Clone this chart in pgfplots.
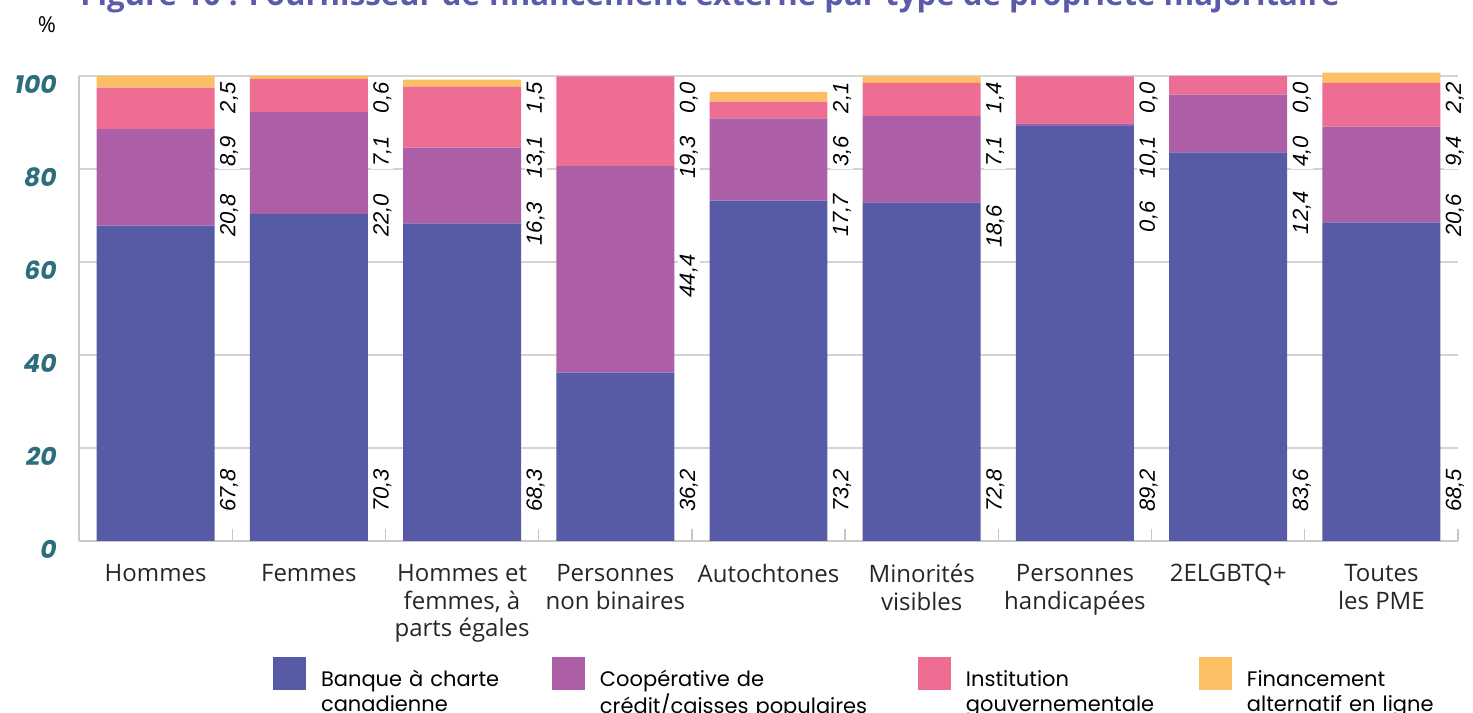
\documentclass[border=0pt]{standalone}
\usepackage{fontspec}
\usepackage{graphicx}
\usepackage{pgfplots}
\usepackage{pgfplotstable}
\pgfplotsset{compat=1.18}
\setmainfont{Open Sans}
\newfontfamily\poppins{Poppins}
\newfontfamily\arial{Liberation Sans}
\definecolor{cbank}{RGB}{87,91,165}
\definecolor{ccoop}{RGB}{172,95,167}
\definecolor{cgov}{RGB}{238,109,146}
\definecolor{calt}{RGB}{253,191,99}
\definecolor{cteal}{RGB}{45,110,125}
\definecolor{ctitle}{RGB}{90,92,170}
\definecolor{cgrid}{RGB}{212,212,212}
\definecolor{caxis}{RGB}{200,200,200}

\pgfplotstableread{
x b c g f
0 67.8 20.8 8.9 2.5
1 70.3 22.0 7.1 0.6
2 68.3 16.3 13.1 1.5
3 36.2 44.4 19.3 0.0
4 73.2 17.7 3.6 2.1
5 72.8 18.6 7.1 1.4
6 89.2 0.6 10.1 0.0
7 83.6 12.4 4.0 0.0
8 68.5 20.6 9.4 2.2
}\data

% labels of the first segment (anchored at their start)
\pgfplotstableread{
x y lab
0.48 5.8 67,8
1.48 5.8 70,3
2.48 5.8 68,3
3.48 5.8 36,2
4.48 5.8 73,2
5.48 5.8 72,8
6.48 5.8 89,2
7.48 5.8 83,6
8.48 5.8 68,5
}\labA

% labels of the second segment (centred)
\pgfplotstableread{
x y lab
0.48 70.0 20,8
1.48 70.0 22,0
2.48 68.2 16,3
3.48 57.0 44,4
4.48 70.0 17,7
5.48 67.7 18,6
6.48 69.7 0,6
7.48 70.6 12,4
8.48 70.0 20,6
}\labB

% labels of the third and fourth segments (anchored at their end)
\pgfplotstableread{
x y lab
0.48 87.6 8,9
1.48 87.6 7,1
2.48 87.6 13,1
3.48 87.6 19,3
4.48 87.6 3,6
5.48 87.6 7,1
6.48 87.6 10,1
7.48 87.6 4,0
8.48 87.6 9,4
0.48 99.1 2,5
1.48 99.1 0,6
2.48 99.1 1,5
3.48 99.1 0,0
4.48 99.1 2,1
5.48 99.1 1,4
6.48 99.1 0,0
7.48 99.1 0,0
8.48 99.1 2,2
}\labC

\begin{document}
\begin{tikzpicture}
\useasboundingbox (0,0) rectangle (736.5bp,356.5bp);

\node[anchor=base west, inner sep=0pt, text=ctitle, font=\bfseries] at (40bp,353.75bp)
  {\resizebox{629.5bp}{!}{Figure 10 : Fournisseur de financement externe par type de propriété majoritaire}};
\node[font=\fontsize{11bp}{13bp}\selectfont, inner sep=0pt] at (23.5bp,344bp) {\%};

\begin{axis}[
  at={(39.5bp,86bp)}, anchor=south west,
  width=689.5bp, height=232.5bp, scale only axis,
  ybar stacked, bar width=0.77,
  legend image code/.code={%
      \fill[#1] (0bp,-2bp) rectangle (16.5bp,14.5bp); \path (22bp,0bp);},
  xmin=-0.5, xmax=8.5, ymin=0, ymax=100,
  enlargelimits=false, clip=false,
  axis x line=bottom, axis y line=left,
  axis line style={-, caxis, line width=0.8bp},
  ytick={0,20,40,60,80,100},
  yticklabels={0,20,40,60,80,100},
  yticklabel style={font=\poppins\bfseries\itshape\fontsize{12.5bp}{14bp}\selectfont,
    text=cteal, anchor=east, inner sep=0pt, xshift=-11bp, yshift=-4bp},
  xtick={0,1,2,3,4,5,6,7,8},
  xticklabels={Hommes, Femmes, {Hommes et\\femmes, à\\parts égales}, {Personnes\\non binaires},
    Autochtones, {Minorités\\visibles}, {Personnes\\handicapées}, 2ELGBTQ+, {Toutes\\les PME}},
  xticklabel style={font=\fontsize{12bp}{13.75bp}\selectfont, text=black!85,
    align=center, anchor=north, inner sep=0pt, yshift=-11.5bp},
  minor xtick={-0.5,0.5,1.5,2.5,3.5,4.5,5.5,6.5,7.5,8.5},
  major tick length=0pt, minor tick length=6bp,
  tick align=inside,
  tick style={caxis, line width=0.7bp},
  ymajorgrids, major grid style={cgrid, line width=0.6bp},
  legend columns=4,
  legend style={draw=none, fill=none, inner sep=0pt, outer sep=0pt,
    at={(0.1407,-0.2495)}, anchor=north west,
    font=\poppins\fontsize{10.5bp}{12.5bp}\selectfont,
    cells={anchor=base west},
    /tikz/column 2/.style={text width=113.5bp},
    /tikz/column 4/.style={text width=157bp},
    /tikz/column 6/.style={text width=114.5bp},
    /tikz/column 8/.style={text width=108bp}},
]
\addplot[fill=cbank, draw=none] table[x=x, y=b] {\data};
\addlegendentry{Banque à charte\\canadienne}
\addplot[fill=ccoop, draw=none] table[x=x, y=c] {\data};
\addlegendentry{Coopérative de\\crédit/caisses populaires}
\addplot[fill=cgov, draw=none] table[x=x, y=g] {\data};
\addlegendentry{Institution\\gouvernementale}
\addplot[fill=calt, draw=none] table[x=x, y=f] {\data};
\addlegendentry{Financement\\alternatif en ligne}
\end{axis}

\begin{axis}[
  at={(39.5bp,86bp)}, anchor=south west,
  width=689.5bp, height=232.5bp, scale only axis,
  xmin=-0.5, xmax=8.5, ymin=0, ymax=100,
  enlargelimits=false, clip=false, hide axis,
  every node near coord/.append style={font=\arial\itshape\fontsize{11bp}{13bp}\selectfont,
    text=black, fill=white, inner sep=1bp, rotate=90},
]
\addplot[draw=none, mark=none, point meta=explicit symbolic, nodes near coords,
  nodes near coords style={anchor=west}] table[x=x, y=y, meta=lab] {\labA};
\addplot[draw=none, mark=none, point meta=explicit symbolic, nodes near coords,
  nodes near coords style={anchor=center}] table[x=x, y=y, meta=lab] {\labB};
\addplot[draw=none, mark=none, point meta=explicit symbolic, nodes near coords,
  nodes near coords style={anchor=east}] table[x=x, y=y, meta=lab] {\labC};
\end{axis}
\end{tikzpicture}
\end{document}
